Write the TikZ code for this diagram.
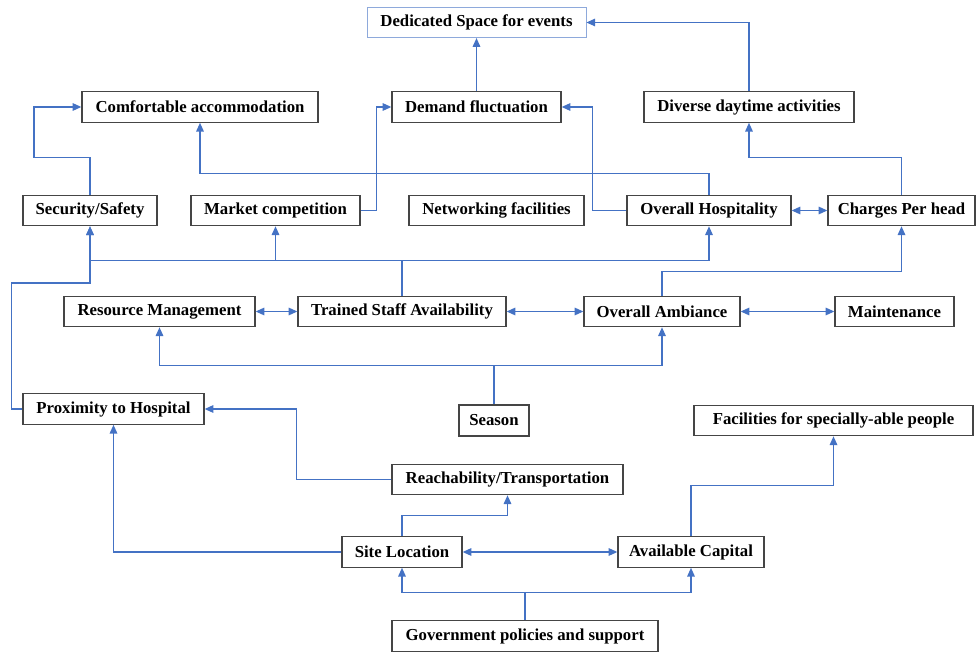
\documentclass[tikz,border=0pt]{standalone}
\usepackage{fontspec}
\setmainfont{Liberation Serif}
\usepackage{tikz}
\usetikzlibrary{positioning,arrows.meta,calc}
\usepackage{xcolor}
\definecolor{linkblue}{HTML}{4472C4}
\definecolor{boxgray}{HTML}{454545}
\definecolor{paleblue}{HTML}{8EA9DB}

\begin{document}
\begin{tikzpicture}[x=0.03cm, y=0.03cm,
    boxStyle/.style={rectangle, draw=boxgray, line width=1.1pt, fill=white, minimum height=0.91cm, inner sep=2pt, font=\bfseries\fontsize{14.3}{16}\selectfont},
    eventBox/.style={boxStyle, draw=paleblue, line width=0.7pt},
    seasonBox/.style={boxStyle, line width=1.8pt},
    arrowStyle/.style={-{Triangle[length=7.5pt,width=6.5pt]}, line width=1.1pt, draw=linkblue},
    bothStyle/.style={{Triangle[length=7.5pt,width=6.5pt]}-{Triangle[length=7.5pt,width=6.5pt]}, line width=1.1pt, draw=linkblue},
    lineStyle/.style={line width=1.1pt, draw=linkblue}
]
    \useasboundingbox (0,0) rectangle (977,-652);

    \node[eventBox, minimum width=6.57cm] (dedicated) at (476.5,-22.5) {Dedicated Space for events};
    \node[boxStyle, minimum width=7.08cm] (comfort) at (200,-107) {Comfortable accommodation};
    \node[boxStyle, minimum width=5.07cm] (demand) at (476.5,-107) {Demand fluctuation};
    \node[boxStyle, minimum width=6.3cm] (diverse) at (749,-107) {Diverse daytime activities};

    \node[boxStyle, minimum width=4.02cm] (security) at (90,-210.5) {Security/Safety};
    \node[boxStyle, minimum width=5.07cm] (market) at (275.5,-210.5) {Market competition};
    \node[boxStyle, minimum width=5.25cm] (network) at (496.5,-210.5) {Networking facilities};
    \node[boxStyle, minimum width=4.92cm] (hospitality) at (709,-210.5) {Overall Hospitality};
    \node[boxStyle, minimum width=4.41cm] (charges) at (901.5,-210.5) {Charges Per head};

    \node[boxStyle, minimum width=5.73cm] (resource) at (159.5,-311.5) {Resource Management};
    \node[boxStyle, minimum width=6.24cm] (staff) at (402,-311.5) {Trained Staff Availability};
    \node[boxStyle, minimum width=4.68cm] (ambiance) at (662,-311.5) {Overall Ambiance};
    \node[boxStyle, minimum width=3.57cm] (maintenance) at (894.5,-311.5) {Maintenance};

    \node[boxStyle, minimum width=5.43cm] (proximity) at (113.5,-409) {Proximity to Hospital};
    \node[seasonBox, minimum width=2.1cm] (season) at (494,-420.5) {Season};
    \node[boxStyle, minimum width=8.37cm] (facilities) at (833.5,-420.5) {Facilities for specially-able people};

    \node[boxStyle, minimum width=6.93cm] (reach) at (507.5,-479.5) {Reachability/Transportation};
    \node[boxStyle, minimum width=3.6cm] (site) at (402,-552) {Site Location};
    \node[boxStyle, minimum width=4.38cm] (capital) at (691,-552) {Available Capital};
    \node[boxStyle, minimum width=7.98cm] (govt) at (525,-636) {Government policies and support};

    \draw[arrowStyle] (diverse.north) |- (dedicated.east);
    \draw[arrowStyle] (demand.north) -- (dedicated.south);
    \draw[arrowStyle] (security.north) -- ++(0,37) -- ++(-56,0) |- (comfort.west);
    \draw[arrowStyle] (market.east) -- ++(16,0) |- (demand.west);
    \draw[arrowStyle] (hospitality.north) -- ++(0,21) -| (comfort.south);
    \draw[arrowStyle] (hospitality.west) -- ++(-34,0) |- (demand.east);
    \draw[bothStyle] (hospitality.east) -- (charges.west);
    \draw[arrowStyle] (charges.north) -- ++(0,37) -| (diverse.south);

    \draw[lineStyle] (staff.north) -- ++(0,35) coordinate (staffBus);
    \draw[arrowStyle] (staffBus) -| (security.south);
    \draw[arrowStyle] (staffBus) -| (market.south);
    \draw[arrowStyle] (staffBus) -| (hospitality.south);
    \draw[arrowStyle] (proximity.west) -- ++(-11,0) -- ++(0,126) -| (security.south);
    \draw[arrowStyle] (ambiance.north) -- ++(0,24) -| (charges.south);

    \draw[bothStyle] (resource.east) -- (staff.west);
    \draw[bothStyle] (staff.east) -- (ambiance.west);
    \draw[bothStyle] (ambiance.east) -- (maintenance.west);

    \draw[lineStyle] (season.north) -- ++(0,39) coordinate (seasonBus);
    \draw[arrowStyle] (seasonBus) -| (resource.south);
    \draw[arrowStyle] (seasonBus) -| (ambiance.south);

    \draw[arrowStyle] (reach.west) -- ++(-95,0) |- (proximity.east);
    \draw[arrowStyle] (site.west) -| (proximity.south);
    \draw[arrowStyle] (site.north) -- ++(0,21) -| (reach.south);
    \draw[bothStyle] (site.east) -- (capital.west);
    \draw[arrowStyle] (capital.north) -- ++(0,51) -| (facilities.south);

    \draw[lineStyle] (govt.north) -- ++(0,28) coordinate (govtBus);
    \draw[arrowStyle] (govtBus) -| (site.south);
    \draw[arrowStyle] (govtBus) -| (capital.south);
\end{tikzpicture}
\end{document}
